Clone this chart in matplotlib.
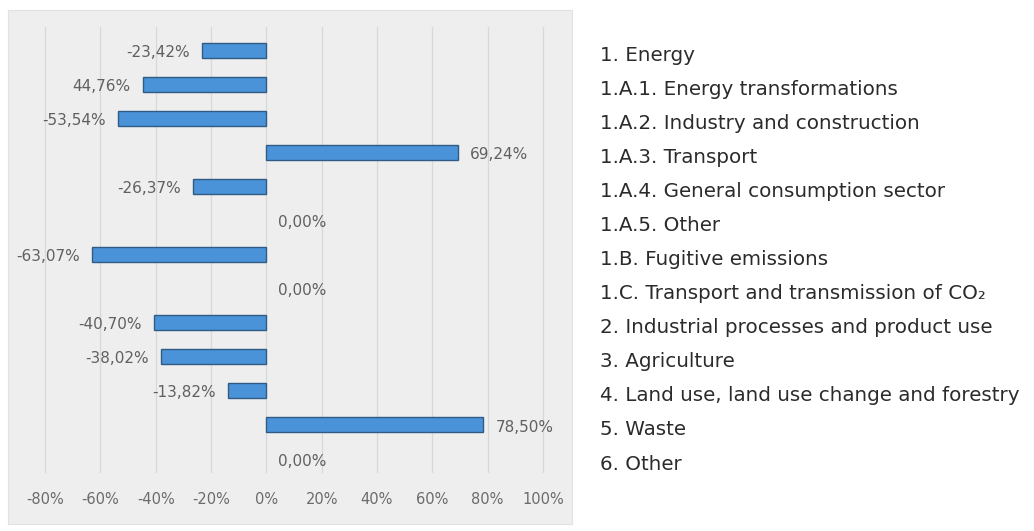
import matplotlib
matplotlib.use("Agg")
import matplotlib.pyplot as plt
import matplotlib.transforms as mtransforms

categories = [
    "1. Energy",
    "1.A.1. Energy transformations",
    "1.A.2. Industry and construction",
    "1.A.3. Transport",
    "1.A.4. General consumption sector",
    "1.A.5. Other",
    "1.B. Fugitive emissions",
    "1.C. Transport and transmission of CO\u2082",
    "2. Industrial processes and product use",
    "3. Agriculture",
    "4. Land use, land use change and forestry",
    "5. Waste",
    "6. Other",
]
values = [-23.42, -44.76, -53.54, 69.24, -26.37, 0.00, -63.07, 0.00,
          -40.70, -38.02, -13.82, 78.50, 0.00]
value_labels = ["-23,42%", "44,76%", "-53,54%", "69,24%", "-26,37%", "0,00%",
                "-63,07%", "0,00%", "-40,70%", "-38,02%", "-13,82%", "78,50%", "0,00%"]
xticks = [-80, -60, -40, -20, 0, 20, 40, 60, 80, 100]
xtick_labels = ["-80%", "-60%", "-40%", "-20%", "0%", "20%", "40%", "60%", "80%", "100%"]

W, H = 1034, 531
fig = plt.figure(figsize=(W / 100, H / 100), dpi=100)
fig.patch.set_facecolor("white")

# gray chart panel (background axes)
bg = fig.add_axes([8 / W, 1 - 524 / H, (572 - 8) / W, (524 - 10) / H], zorder=0)
bg.set_facecolor("#eeeeee")
bg.set_xticks([])
bg.set_yticks([])
for s in bg.spines.values():
    s.set_color("#e2e2e2")
    s.set_linewidth(0.8)

ax_left, ax_right = 17.4, 570.6
ax_top, ax_bot = 27, 473
ax = fig.add_axes([ax_left / W, 1 - ax_bot / H, (ax_right - ax_left) / W, (ax_bot - ax_top) / H],
                  zorder=2)
ax.set_facecolor("none")

y = list(range(len(categories)))
ax.barh(y, values, height=0.44, color="#4a93d8", edgecolor="#2f5b85",
        linewidth=[1.0 if v != 0 else 0.0 for v in values], zorder=3)

ax.set_xlim(-90, 110)
ax.set_ylim(12.41, -0.675)
ax.set_xticks(xticks)
ax.set_xticklabels(xtick_labels)
ax.set_yticks([])
ax.grid(axis="x", color="#d8d8d8", linewidth=0.9, zorder=1)
ax.set_axisbelow(True)
ax.tick_params(axis="x", length=0, pad=14, labelsize=10.5, labelcolor="#6b6b6b")
for s in ax.spines.values():
    s.set_visible(False)

for yi, v, lab in zip(y, values, value_labels):
    if v < 0:
        ax.annotate(lab, (v, yi), xytext=(-8.6, -1.5), textcoords="offset points",
                    ha="right", va="center", fontsize=11, color="#606060", zorder=4)
    else:
        ax.annotate(lab, (v, yi), xytext=(8.6, -1.5), textcoords="offset points",
                    ha="left", va="center", fontsize=11, color="#606060", zorder=4)

# category list on the right, aligned with the rows
trans = mtransforms.blended_transform_factory(fig.transFigure, ax.transData)
trans = trans + mtransforms.ScaledTranslation(0, -5 / 100, fig.dpi_scale_trans)
for yi, c in zip(y, categories):
    ax.text(600 / W, yi, c, transform=trans, ha="left", va="center",
            fontsize=14.3, color="#2b2b2b", family=["DejaVu Sans"],
            clip_on=False)

fig.savefig("out.png", dpi=100)
